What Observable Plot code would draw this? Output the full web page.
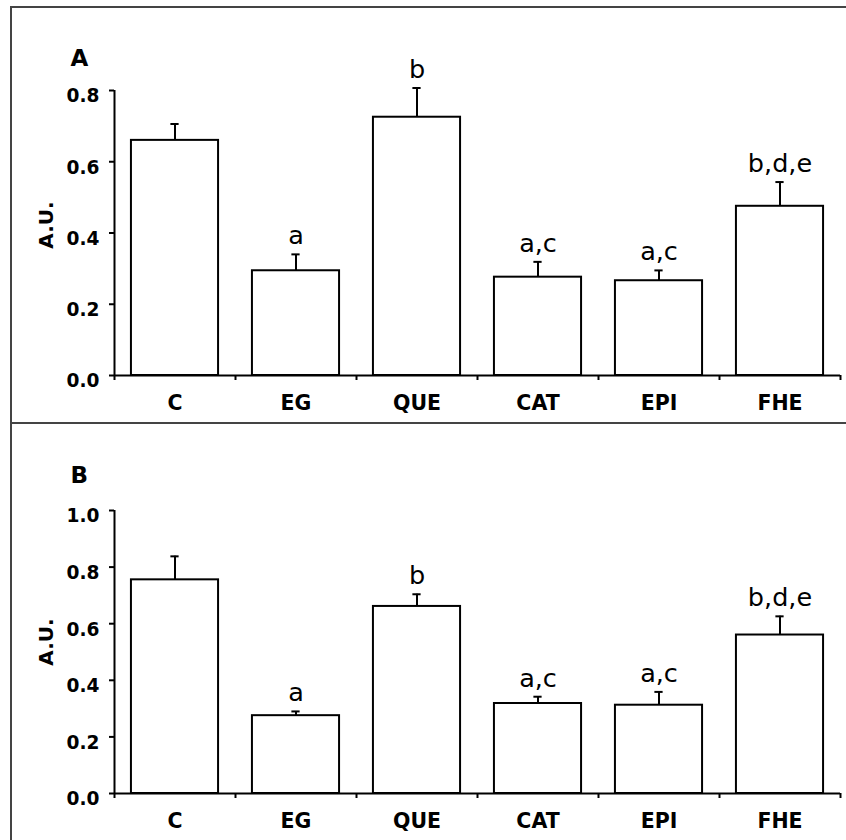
<!DOCTYPE html>
<html>
<head>
<meta charset="utf-8">
<script src="https://cdn.jsdelivr.net/npm/d3@7"></script>
<script src="https://cdn.jsdelivr.net/npm/@observablehq/plot@0.6"></script>
<style>
  body { margin: 0; background: white; }
  #wrap { position: relative; width: 846px; height: 840px; overflow: hidden; background: white; }
  .panel { position: absolute; left: 0; }
  .frame { position: absolute; pointer-events: none; }
</style>
</head>
<body>
<div id="wrap">
  <div id="panelA" class="panel" style="top:0px"></div>
  <div id="panelB" class="panel" style="top:423px"></div>
  <div class="frame" style="left:10px;top:6px;width:900px;height:900px;border-left:2px solid #444;border-top:2px solid #444;"></div>
  <div class="frame" style="left:10px;top:422px;width:900px;height:0;border-top:2px solid #444;"></div>
</div>
<script>
const categories = ["C", "EG", "QUE", "CAT", "EPI", "FHE"];
const letters = ["", "a", "b", "a,c", "a,c", "b,d,e"];

const meanA = [0.660, 0.294, 0.725, 0.276, 0.266, 0.475];
const errA  = [0.046, 0.046, 0.082, 0.043, 0.029, 0.068];
const ticksA = [0, 0.2, 0.4, 0.6, 0.8];

const meanB = [0.755, 0.275, 0.661, 0.318, 0.312, 0.560];
const errB  = [0.083, 0.015, 0.043, 0.024, 0.047, 0.066];
const ticksB = [0, 0.2, 0.4, 0.6, 0.8, 1.0];

const FONT = "'DejaVu Sans', 'Liberation Sans', Arial, sans-serif";

function makePanel(panelLabel, means, errs, yTicks, dims) {
  const data = categories.map((c, i) => ({i, cat: c, mean: means[i], err: errs[i], top: means[i] + errs[i], letter: letters[i]}));
  const pad = 0.14;
  const cap = 0.034;
  const sw = 2;
  return Plot.plot({
    width: 846,
    height: dims.height,
    marginLeft: 114,
    marginRight: 6,
    marginTop: dims.marginTop,
    marginBottom: dims.marginBottom,
    style: {fontFamily: FONT, fontSize: "19px", fontWeight: "bold", color: "black", background: "transparent", overflow: "visible"},
    x: {type: "linear", domain: [0, categories.length], axis: null},
    y: {domain: [0, yTicks[yTicks.length - 1]], axis: null},
    marks: [
      // bars
      Plot.rectY(data, {x1: d => d.i + pad, x2: d => d.i + 1 - pad, y1: 0, y2: "mean", fill: "white", stroke: "black", strokeWidth: sw}),
      // error bars
      Plot.ruleX(data, {x: d => d.i + 0.5, y1: "mean", y2: "top", stroke: "black", strokeWidth: sw}),
      Plot.ruleY(data, {y: "top", x1: d => d.i + 0.5 - cap, x2: d => d.i + 0.5 + cap, stroke: "black", strokeWidth: sw}),
      // significance letters
      Plot.text(data, {x: d => d.i + 0.5, y: "top", text: "letter", lineAnchor: "bottom", dy: -10, fontSize: 25.5, fontWeight: "normal", fill: "black"}),
      // y axis: line, tick marks, labels
      Plot.ruleX([0], {stroke: "black", strokeWidth: sw}),
      Plot.axisY({ticks: yTicks, tickFormat: () => "", tickSize: 5, strokeWidth: sw}),
      Plot.axisY({ticks: yTicks, tickFormat: d3.format(".1f"), tickSize: 0, tickPadding: 15, fontSize: 18.6, fontWeight: "bold", dy: 6}),
      // x axis baseline, boundary ticks, category labels
      Plot.ruleY([0], {stroke: "black", strokeWidth: sw}),
      Plot.axisX({ticks: d3.range(categories.length + 1), tickFormat: () => "", tickSize: 5, strokeWidth: sw}),
      Plot.axisX({ticks: categories.map((c, i) => i + 0.5), tickFormat: v => categories[Math.floor(v)], tickSize: 0, tickPadding: 20, fontSize: 20.5, fontWeight: "bold"}),
      // y axis title
      Plot.text(["A.U."], {frameAnchor: "left", textAnchor: "middle", lineAnchor: "middle", rotate: -90, dx: -68, dy: dims.titleDy, fontSize: 20, fontWeight: "bold", fill: "black"}),
      // panel label
      Plot.text([panelLabel], {frameAnchor: "top-left", textAnchor: "start", lineAnchor: "bottom", dx: -44, dy: dims.labelDy, fontSize: 23, fontWeight: "bold", fill: "black"})
    ]
  });
}

document.getElementById("panelA").appendChild(
  makePanel("A", meanA, errA, ticksA, {height: 423, marginTop: 90, marginBottom: 48, titleDy: -8, labelDy: -25})
);
document.getElementById("panelB").appendChild(
  makePanel("B", meanB, errB, ticksB, {height: 417, marginTop: 87, marginBottom: 47, titleDy: -10, labelDy: -28})
);
</script>
</body>
</html>
